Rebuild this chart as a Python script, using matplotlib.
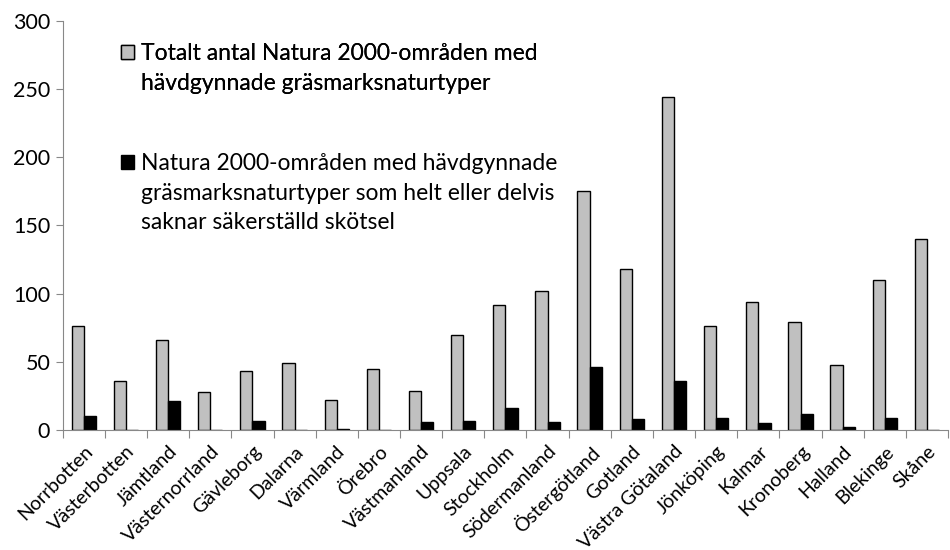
import numpy as np
import matplotlib
matplotlib.use("Agg")
import matplotlib.pyplot as plt
from matplotlib.patches import Rectangle

plt.rcParams['font.family'] = ['Lato', 'DejaVu Sans']

regions = ["Norrbotten", "Västerbotten", "Jämtland", "Västernorrland", "Gävleborg",
           "Dalarna", "Värmland", "Örebro", "Västmanland", "Uppsala", "Stockholm",
           "Södermanland", "Östergötland", "Gotland", "Västra Götaland", "Jönköping",
           "Kalmar", "Kronoberg", "Halland", "Blekinge", "Skåne"]
total = [76, 36, 66, 28, 43, 49, 22, 45, 29, 70, 92, 102, 175, 118, 244, 76, 94, 79, 48, 110, 140]
lacking = [10, 0, 21, 0, 7, 0, 1, 0, 6, 7, 16, 6, 46, 8, 36, 9, 5, 12, 2, 9, 0]

label_total = ["Totalt antal Natura 2000-områden med",
               "hävdgynnade gräsmarksnaturtyper"]
label_lacking = ["Natura 2000-områden med hävdgynnade",
                 "gräsmarksnaturtyper som helt eller delvis",
                 "saknar säkerställd skötsel"]

fig = plt.figure(figsize=(9.5, 5.5), dpi=100)
ax = fig.add_axes([0.066, 0.218, 0.932, 0.744])

x = np.arange(len(regions))
w = 0.29
b1 = ax.bar(x - w / 2, total, w, color="#c0c0c0", edgecolor="black", linewidth=1)
b2 = ax.bar(x + w / 2, lacking, w, color="black", edgecolor="black", linewidth=1)

ax.set_xlim(-0.5, len(regions) - 0.5)
ax.set_ylim(0, 300)
ax.set_yticks(range(0, 301, 50))
ax.tick_params(axis="y", labelsize=15.5, length=5, color="#888888", pad=4)

# tick marks on the category boundaries, labels at the centres
ax.set_xticks(np.arange(-0.5, len(regions), 1.0))
ax.set_xticklabels([])
ax.set_xticks(x, minor=True)
ax.set_xticklabels(regions, minor=True, rotation=45, ha="right", va="top",
                   rotation_mode="anchor", fontsize=14)
ax.tick_params(axis="x", which="major", length=6, color="#888888")
ax.tick_params(axis="x", which="minor", length=0, pad=9)

for s in ["top", "right"]:
    ax.spines[s].set_visible(False)
for s in ["left", "bottom"]:
    ax.spines[s].set_color("#888888")


def blank():
    return Rectangle((0, 0), 1, 1, visible=False)


# one row per text line so the square sits next to the first line
def line_legend(bars, lines, top_px):
    handles = [bars.patches[0]] + [blank() for _ in lines[1:]]
    lg = fig.legend(handles, lines, loc="upper left",
                    bbox_to_anchor=(110 / 950, 1 - top_px / 550),
                    frameon=False, fontsize=16.5, borderpad=0,
                    handlelength=0.55, handleheight=0.55, handletextpad=0.3,
                    labelspacing=0.37)
    return lg


leg1 = line_legend(b1, label_total, 32)
fig.add_artist(leg1)
leg2 = line_legend(b2, label_lacking, 142)

fig.savefig("out.png", dpi=100)
